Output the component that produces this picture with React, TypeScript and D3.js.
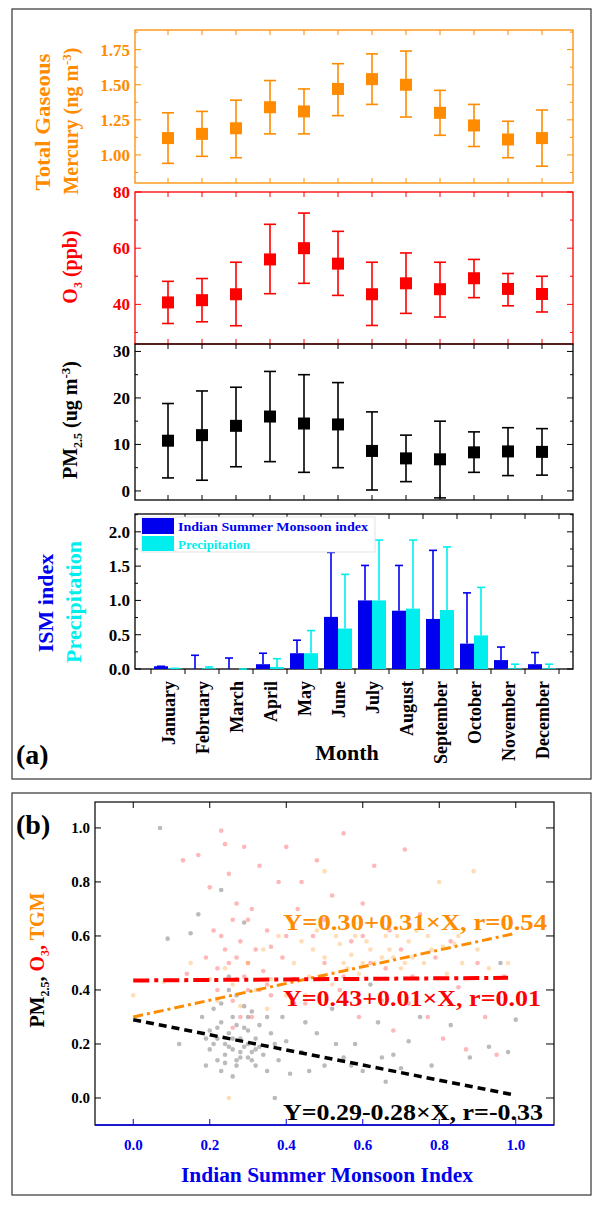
import React from "react";
import * as d3 from "d3";

const months = ["January","February","March","April","May","June","July","August","September","October","November","December"];
const tgmMean = [1.12,1.15,1.19,1.34,1.31,1.47,1.54,1.50,1.30,1.21,1.11,1.12];
const tgmLo = [0.94,0.99,0.98,1.15,1.15,1.28,1.36,1.27,1.14,1.06,0.98,0.92];
const tgmHi = [1.30,1.31,1.39,1.53,1.47,1.65,1.72,1.74,1.46,1.36,1.24,1.32];
const o3Mean = [40.7,41.5,43.6,56,60,54.5,43.6,47.5,45.4,49.3,45.5,43.7];
const o3Lo = [33.2,33.8,32.4,43.8,47.5,43.2,32.5,36.8,35.5,42.4,39.5,37.3];
const o3Hi = [48.2,49.2,55,68.5,72.5,66,55,58.3,55,56,51,50];
const pmMean = [10.8,12,14,16,14.5,14.3,8.6,7,6.8,8.3,8.5,8.4];
const pmLo = [2.8,2.3,5.2,6.3,4,5,0.2,2,-1.5,4,3.3,3.4];
const pmHi = [18.8,21.5,22.3,25.7,25,23.3,17,12,15,12.7,13.6,13.4];
const ismVal = [0.04,0,0,0.07,0.23,0.76,1.0,0.85,0.73,0.37,0.13,0.07];
const ismErr = [0.04,0.2,0.16,0.23,0.42,1.70,1.51,1.51,1.73,1.11,0.32,0.24];
const preVal = [0.01,0.01,0,0.03,0.23,0.59,1.0,0.88,0.86,0.49,0.01,0.01];
const preErr = [0.01,0.03,0,0.15,0.56,1.38,1.88,1.88,1.78,1.19,0.07,0.07];

const pmPts: [number, number][] = [[0.07,1.0],[0.09,0.59],[0.12,0.2],[0.15,0.61],[0.17,0.68],[0.18,0.3],[0.19,0.12],[0.2,0.25],[0.2,0.18],[0.21,0.33],[0.22,0.14],[0.22,0.22],[0.23,0.77],[0.23,0.28],[0.24,0.16],[0.24,0.2],[0.25,0.45],[0.25,0.24],[0.26,0.18],[0.26,0.3],[0.27,0.14],[0.27,0.38],[0.28,0.22],[0.28,0.17],[0.29,0.65],[0.29,0.26],[0.3,0.15],[0.3,0.2],[0.31,0.32],[0.31,0.17],[0.32,0.12],[0.32,0.22],[0.33,0.27],[0.34,0.16],[0.35,0.1],[0.35,0.3],[0.37,0.0],[0.37,0.2],[0.38,0.14],[0.4,0.21],[0.41,0.09],[0.42,0.35],[0.44,0.17],[0.46,0.1],[0.48,0.24],[0.5,0.12],[0.52,0.33],[0.55,0.15],[0.58,0.2],[0.6,0.1],[0.62,0.42],[0.64,0.28],[0.66,0.06],[0.68,0.16],[0.72,0.21],[0.75,0.3],[0.78,0.12],[0.83,0.27],[0.88,0.15],[0.93,0.19],[0.96,0.5],[0.98,0.17],[1.0,0.29],[0.23,0.1],[0.27,0.12],[0.3,0.25],[0.26,0.08],[0.33,0.19],[0.21,0.2],[0.22,0.26],[0.24,0.13],[0.25,0.19],[0.26,0.22],[0.27,0.27],[0.28,0.15],[0.29,0.19],[0.3,0.3],[0.31,0.14],[0.32,0.18],[0.23,0.35],[0.25,0.4],[0.29,0.34],[0.19,0.22],[0.36,0.24],[0.39,0.3],[0.45,0.28],[0.53,0.2],[0.57,0.12],[0.65,0.15],[0.7,0.11]];
const o3Pts: [number, number][] = [[0.13,0.88],[0.14,0.46],[0.17,0.9],[0.19,0.52],[0.2,0.78],[0.21,0.62],[0.22,0.4],[0.23,0.99],[0.24,0.94],[0.25,0.83],[0.25,0.5],[0.26,0.36],[0.27,0.72],[0.27,0.44],[0.28,0.58],[0.29,0.93],[0.3,0.4],[0.3,0.66],[0.31,0.3],[0.32,0.55],[0.33,0.86],[0.34,0.47],[0.35,0.62],[0.36,0.38],[0.38,0.8],[0.39,0.52],[0.4,0.93],[0.42,0.44],[0.43,0.7],[0.45,0.35],[0.47,0.6],[0.48,0.88],[0.5,0.5],[0.52,0.75],[0.54,0.4],[0.55,0.98],[0.57,0.58],[0.59,0.3],[0.6,0.72],[0.62,0.5],[0.63,0.86],[0.65,0.36],[0.67,0.62],[0.68,0.25],[0.7,0.55],[0.71,0.92],[0.73,0.45],[0.75,0.68],[0.77,0.3],[0.79,0.52],[0.81,0.22],[0.83,0.58],[0.85,0.41],[0.87,0.18],[0.9,0.5],[0.92,0.3],[0.95,0.16],[0.97,0.45],[0.26,0.26],[0.3,0.5],[0.24,0.55],[0.35,0.42],[0.28,0.3],[0.22,0.48],[0.23,0.6],[0.26,0.66],[0.27,0.52],[0.29,0.45],[0.31,0.7],[0.33,0.4],[0.36,0.56],[0.4,0.6],[0.44,0.8],[0.5,0.66],[0.55,0.45],[0.6,0.6],[0.66,0.48],[0.72,0.35]];
const tgmPts: [number, number][] = [[0.0,0.38],[0.08,0.43],[0.15,0.5],[0.2,0.44],[0.22,0.36],[0.24,0.48],[0.26,0.42],[0.28,0.34],[0.3,0.5],[0.32,0.4],[0.34,0.55],[0.36,0.44],[0.38,0.6],[0.4,0.38],[0.42,0.5],[0.44,0.58],[0.46,0.45],[0.48,0.62],[0.5,0.52],[0.52,0.42],[0.54,0.57],[0.56,0.48],[0.58,0.6],[0.6,0.5],[0.62,0.55],[0.64,0.44],[0.66,0.6],[0.68,0.52],[0.7,0.48],[0.72,0.58],[0.74,0.62],[0.76,0.5],[0.78,0.55],[0.8,0.8],[0.82,0.46],[0.84,0.57],[0.86,0.5],[0.89,0.84],[0.9,0.55],[0.93,0.48],[0.98,0.5],[0.25,0.0],[0.5,0.84],[0.35,0.33],[0.45,0.38],[0.53,0.6],[0.57,0.53],[0.61,0.58],[0.63,0.5],[0.67,0.55],[0.69,0.6],[0.73,0.52],[0.77,0.6],[0.81,0.56],[0.85,0.6],[0.55,0.5],[0.59,0.46],[0.65,0.52],[0.71,0.5],[0.47,0.55]];

const serif = "'Liberation Serif', 'DejaVu Serif', serif";
const ORANGE = "#ff8c00";
const RED = "#ff0000";
const BLUE = "#0000ee";
const CYAN = "#00eeee";

const x0 = 135, x1 = 573;
const xm = d3.scalePoint<string>().domain(months).range([168, 542]);

function ErrPanel({ y0, y1, domain, ticks, minor, mean, lo, hi, color, fmt, tickColor }: any) {
  const y = d3.scaleLinear().domain(domain).range([y1, y0]);
  return (
    <g>
      <rect x={x0} y={y0} width={x1 - x0} height={y1 - y0} fill="none" stroke={color} strokeWidth={1.3} />
      {months.map((m) => (
        <g key={m}>
          <line x1={xm(m)} x2={xm(m)} y1={y1} y2={y1 - 5} stroke={color} />
          <line x1={xm(m)} x2={xm(m)} y1={y0} y2={y0 + 5} stroke={color} />
        </g>
      ))}
      {minor.map((t: number) => (
        <g key={"m" + t}>
          <line x1={x0} x2={x0 + 3} y1={y(t)} y2={y(t)} stroke={color} />
          <line x1={x1} x2={x1 - 3} y1={y(t)} y2={y(t)} stroke={color} />
        </g>
      ))}
      {ticks.map((t: number) => (
        <g key={t}>
          <line x1={x0} x2={x0 + 6} y1={y(t)} y2={y(t)} stroke={color} />
          <line x1={x1} x2={x1 - 6} y1={y(t)} y2={y(t)} stroke={color} />
          <text x={x0 - 5} y={y(t)} dy="0.35em" textAnchor="end" fontSize={17} fontWeight="bold" fill={tickColor}>{fmt(t)}</text>
        </g>
      ))}
      {months.map((m, i) => {
        const cx = xm(m)!;
        return (
          <g key={"e" + m} stroke={color} strokeWidth={1.6}>
            <line x1={cx} x2={cx} y1={y(lo[i])} y2={y(hi[i])} />
            <line x1={cx - 6} x2={cx + 6} y1={y(lo[i])} y2={y(lo[i])} />
            <line x1={cx - 6} x2={cx + 6} y1={y(hi[i])} y2={y(hi[i])} />
            <rect x={cx - 6} y={y(mean[i]) - 6} width={12} height={12} fill={color} stroke="none" />
          </g>
        );
      })}
    </g>
  );
}

export default function App() {
  const by0 = 514, by1 = 669;
  const yb = d3.scaleLinear().domain([0, 2.26]).range([by1, by0]);
  const sx = d3.scaleLinear().domain([-0.1, 1.1]).range([95, 554]);
  const sy = d3.scaleLinear().domain([-0.1, 1.096]).range([1125, 802]);
  const bw = 14;
  return (
    <svg width={600} height={1209} style={{ position: "absolute", left: 0, top: 0 }} fontFamily={serif}>
      <rect width={600} height={1209} fill="#fff" />
      <rect x={12} y={9} width={579} height={770} fill="none" stroke="#333" strokeWidth={1.2} />
      <rect x={12} y={793} width={579} height={402} fill="none" stroke="#333" strokeWidth={1.2} />

      <ErrPanel y0={30} y1={183} domain={[0.8, 1.89]} ticks={[1.0, 1.25, 1.5, 1.75]} minor={[0.875, 1.125, 1.375, 1.625, 1.875]} mean={tgmMean} lo={tgmLo} hi={tgmHi} color={ORANGE} tickColor={ORANGE} fmt={d3.format(".2f")} />
      <ErrPanel y0={192} y1={344} domain={[25.9, 80]} ticks={[40, 60, 80]} minor={[30, 50, 70]} mean={o3Mean} lo={o3Lo} hi={o3Hi} color={RED} tickColor={RED} fmt={d3.format("d")} />
      <ErrPanel y0={344} y1={500} domain={[-1.95, 31.6]} ticks={[0, 10, 20, 30]} minor={[5, 15, 25]} mean={pmMean} lo={pmLo} hi={pmHi} color="#000" tickColor="#000" fmt={d3.format("d")} />

      <text transform="translate(50,122) rotate(-90)" textAnchor="middle" fontSize={20} fontWeight="bold" fill={ORANGE} textLength={137} lengthAdjust="spacingAndGlyphs">Total Gaseous</text>
      <text transform="translate(78,121) rotate(-90)" textAnchor="middle" fontSize={20} fontWeight="bold" fill={ORANGE}>Mercury (ng m<tspan dy={-7} fontSize={13}>-3</tspan><tspan dy={7}>)</tspan></text>
      <text transform="translate(77,267) rotate(-90)" textAnchor="middle" fontSize={20} fontWeight="bold" fill={RED}>O<tspan dy={5} fontSize={12}>3</tspan><tspan dy={-5}> (ppb)</tspan></text>
      <text transform="translate(77,420) rotate(-90)" textAnchor="middle" fontSize={20} fontWeight="bold" fill="#000">PM<tspan dy={5} fontSize={12}>2.5</tspan><tspan dy={-5}> (ug m</tspan><tspan dy={-7} fontSize={13}>-3</tspan><tspan dy={7}>)</tspan></text>

      {/* bar panel */}
      <rect x={x0} y={by0} width={x1 - x0} height={by1 - by0} fill="none" stroke="#000" strokeWidth={1.3} />
      {months.map((m, i) => {
        const cx = xm(m)!;
        return (
          <g key={"b" + m}>
            <line x1={cx + 17} x2={cx + 17} y1={by1} y2={by1 + 5} stroke="#000" />
            <line x1={cx + 17} x2={cx + 17} y1={by0} y2={by0 + 5} stroke="#000" />
            <line x1={cx - bw / 2} x2={cx - bw / 2} y1={yb(ismVal[i])} y2={yb(ismErr[i])} stroke={BLUE} strokeWidth={1.6} />
            <line x1={cx - bw / 2 - 4} x2={cx - bw / 2 + 4} y1={yb(ismErr[i])} y2={yb(ismErr[i])} stroke={BLUE} strokeWidth={1.6} />
            <line x1={cx + bw / 2} x2={cx + bw / 2} y1={yb(preVal[i])} y2={yb(preErr[i])} stroke={CYAN} strokeWidth={1.6} />
            <line x1={cx + bw / 2 - 4} x2={cx + bw / 2 + 4} y1={yb(preErr[i])} y2={yb(preErr[i])} stroke={CYAN} strokeWidth={1.6} />
            <rect x={cx - bw} y={yb(ismVal[i])} width={bw} height={by1 - yb(ismVal[i])} fill={BLUE} />
            <rect x={cx} y={yb(preVal[i])} width={bw} height={by1 - yb(preVal[i])} fill={CYAN} />
            <text transform={`translate(${cx + 7},${by1 + 12}) rotate(-90)`} textAnchor="end" fontSize={18} fontWeight="bold">{m}</text>
          </g>
        );
      })}
      <line x1={xm("January")! - 17} x2={xm("January")! - 17} y1={by1} y2={by1 + 5} stroke="#000" />
      {[0, 0.5, 1, 1.5, 2].map((t) => (
        <g key={"bt" + t}>
          <line x1={x0} x2={x0 + 6} y1={yb(t)} y2={yb(t)} stroke="#000" />
          <line x1={x1} x2={x1 - 6} y1={yb(t)} y2={yb(t)} stroke="#000" />
          <text x={x0 - 5} y={yb(t)} dy="0.35em" textAnchor="end" fontSize={17} fontWeight="bold">{d3.format(".1f")(t)}</text>
        </g>
      ))}
      {[0.25, 0.75, 1.25, 1.75, 2.25].map((t) => (
        <g key={"bm" + t}>
          <line x1={x0} x2={x0 + 3} y1={yb(t)} y2={yb(t)} stroke="#000" />
          <line x1={x1} x2={x1 - 3} y1={yb(t)} y2={yb(t)} stroke="#000" />
        </g>
      ))}
      <rect x={142} y={517} width={233} height={35} fill="#fff" stroke="#ddd" strokeWidth={0.8} />
      <rect x={142} y={518} width={32} height={16} fill={BLUE} />
      <rect x={142} y={536} width={32} height={15} fill={CYAN} />
      <text x={178} y={531} fontSize={13} fontWeight="bold" fill={BLUE} textLength={190} lengthAdjust="spacingAndGlyphs">Indian Summer Monsoon index</text>
      <text x={178} y={549} fontSize={13} fontWeight="bold" fill={CYAN}>Precipitation</text>
      <text transform="translate(53,603) rotate(-90)" textAnchor="middle" fontSize={22} fontWeight="bold" fill={BLUE}>ISM index</text>
      <text transform="translate(81,602) rotate(-90)" textAnchor="middle" fontSize={22} fontWeight="bold" fill={CYAN}>Precipitation</text>
      <text x={347} y={760} textAnchor="middle" fontSize={22} fontWeight="bold">Month</text>
      <text x={16} y={764} fontSize={28} fontWeight="bold">(a)</text>

      {/* panel b */}
      <text x={16} y={834} fontSize={28} fontWeight="bold">(b)</text>
      <g>
        {pmPts.map((p, i) => <circle key={"p" + i} cx={sx(p[0])} cy={sy(p[1])} r={2.3} fill="#555" opacity={0.4} />)}
        {o3Pts.map((p, i) => <circle key={"o" + i} cx={sx(p[0])} cy={sy(p[1])} r={2.3} fill="#ff3030" opacity={0.35} />)}
        {tgmPts.map((p, i) => <circle key={"t" + i} cx={sx(p[0])} cy={sy(p[1])} r={2.3} fill="#ffa030" opacity={0.35} />)}
      </g>
      <line x1={sx(0)} y1={sy(0.30)} x2={sx(1)} y2={sy(0.61)} stroke={ORANGE} strokeWidth={3} strokeDasharray="10 4 3 4" />
      <line x1={sx(0)} y1={sy(0.435)} x2={sx(0.98)} y2={sy(0.445)} stroke={RED} strokeWidth={4} strokeDasharray="16 5 4 5" />
      <line x1={sx(0)} y1={sy(0.29)} x2={sx(1)} y2={sy(0.01)} stroke="#000" strokeWidth={3.5} strokeDasharray="8 5" />
      <rect x={95} y={802} width={459} height={323} fill="none" stroke="#000" strokeWidth={1.2} />
      <line x1={95} x2={554} y1={1125} y2={1125} stroke={BLUE} strokeWidth={1.4} />
      {[0, 0.2, 0.4, 0.6, 0.8, 1.0].map((t) => (
        <g key={"sx" + t}>
          <line x1={sx(t)} x2={sx(t)} y1={1125} y2={1119} stroke={BLUE} />
          <line x1={sx(t)} x2={sx(t)} y1={802} y2={808} stroke="#000" />
          <text x={sx(t)} y={1150} textAnchor="middle" fontSize={15} fontWeight="bold" fill={BLUE}>{d3.format(".1f")(t)}</text>
          <line x1={95} x2={101} y1={sy(t)} y2={sy(t)} stroke="#000" />
          <line x1={554} x2={546} y1={sy(t)} y2={sy(t)} stroke="#000" />
          <text x={90} y={sy(t)} dy="0.35em" textAnchor="end" fontSize={15} fontWeight="bold">{d3.format(".1f")(t)}</text>
        </g>
      ))}
      <text x={327} y={1182} textAnchor="middle" fontSize={20} fontWeight="bold" fill={BLUE} textLength={292} lengthAdjust="spacingAndGlyphs">Indian Summer Monsoon Index</text>
      <text transform="translate(44,960) rotate(-90)" textAnchor="middle" fontSize={20} fontWeight="bold">
        <tspan fill="#000">PM</tspan><tspan fill="#000" dy={5} fontSize={12}>2.5</tspan><tspan fill="#000" dy={-5}>, </tspan><tspan fill={RED}>O</tspan><tspan fill={RED} dy={5} fontSize={12}>3</tspan><tspan fill={RED} dy={-5}>, </tspan><tspan fill={ORANGE}>TGM</tspan>
      </text>
      <text x={283} y={930} fontSize={23} fontWeight="bold" fill={ORANGE} textLength={264} lengthAdjust="spacingAndGlyphs">Y=0.30+0.31×X,   r=0.54</text>
      <text x={283} y={1006} fontSize={23} fontWeight="bold" fill={RED} textLength={258} lengthAdjust="spacingAndGlyphs">Y=0.43+0.01×X,  r=0.01</text>
      <text x={283} y={1120} fontSize={23} fontWeight="bold" fill="#000" textLength={260} lengthAdjust="spacingAndGlyphs">Y=0.29-0.28×X,  r=-0.33</text>
    </svg>
  );
}
